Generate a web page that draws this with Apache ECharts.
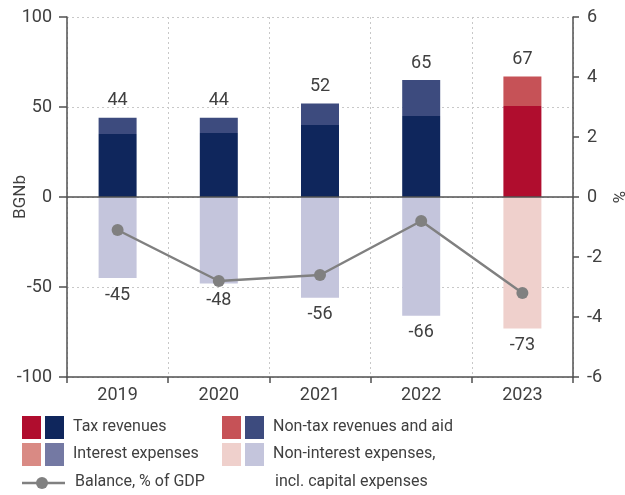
<!DOCTYPE html>
<html>
<head>
<meta charset="utf-8">
<script src="https://cdn.jsdelivr.net/npm/echarts@6/dist/echarts.min.js"></script>
<style>
  html, body { margin: 0; padding: 0; background: #ffffff; }
  #chart { width: 625px; height: 495px; }
</style>
</head>
<body>
<div id="chart"></div>
<script>
// Budget revenues and expenses, BGN billion, and budget balance, % of GDP
var years = ['2019', '2020', '2021', '2022', '2023'];
var taxRevenues = [35, 35.5, 40, 45, 50.5];
var nonTaxRevenues = [9, 8.5, 12, 20, 16.5];
var revenueTotals = [44, 44, 52, 65, 67];
var interestExpenses = [0, 0, 0, 0, 0];
var nonInterestExpenses = [-45, -48, -56, -66, -73];
var expenseTotals = [-45, -48, -56, -66, -73];
var balancePct = [-1.1, -2.8, -2.6, -0.8, -3.2];

var leftTicks = { min: -100, max: 100, interval: 50 };
var rightTicks = { min: -6, max: 6, interval: 2 };

var legendItems = [
  { name: 'Tax revenues', red: '#b00d2e', blue: '#0f265c' },
  { name: 'Interest expenses', red: '#d98a84', blue: '#7479a3' },
  { name: 'Non-tax revenues and aid', red: '#c65257', blue: '#3d4b7e' },
  { name: 'Non-interest expenses,', red: '#efd0cc', blue: '#c4c5dc' }
];
var legendExtra = 'incl. capital expenses';
var balanceName = 'Balance, % of GDP';

var FONT = 'Roboto, "Liberation Sans", sans-serif';
var TXT = '#404040';
var AX = '#505050';
var NUM = 18;        // size of numeric labels
var HIGHLIGHT = 4;   // 2023 bars drawn in red tones

function coloured(values, blue, red) {
  return values.map(function (v, i) {
    return { value: v, itemStyle: { color: i === HIGHLIGHT ? red : blue } };
  });
}

var chart = echarts.init(document.getElementById('chart'), null, { renderer: 'canvas' });

// Legend: a red and a blue swatch per item, then its text
var graphics = [];
var cols = [22, 222];
var rows = [416, 443];
legendItems.forEach(function (it, k) {
  var x = cols[Math.floor(k / 2)];
  var y = rows[k % 2];
  graphics.push({ type: 'rect', left: x, top: y, shape: { width: 19, height: 23 }, style: { fill: it.red } });
  graphics.push({ type: 'rect', left: x + 23, top: y, shape: { width: 19, height: 23 }, style: { fill: it.blue } });
  graphics.push({ type: 'text', left: x + 51, top: y + 3, style: { text: it.name, font: '16px ' + FONT, fill: TXT } });
});
graphics.push({ type: 'line', shape: { x1: 22, y1: 483, x2: 65, y2: 483 }, style: { stroke: '#808080', lineWidth: 2.5 } });
graphics.push({ type: 'circle', shape: { cx: 42, cy: 483, r: 6 }, style: { fill: '#808080' } });
graphics.push({ type: 'text', left: 75, top: 474, style: { text: balanceName, font: '16px ' + FONT, fill: TXT } });
graphics.push({ type: 'text', left: 275, top: 474, style: { text: legendExtra, font: '16px ' + FONT, fill: TXT } });

var option = {
  animation: false,
  textStyle: { fontFamily: FONT },
  grid: { left: 67, right: 52, top: 17, bottom: 118, containLabel: false, outerBoundsMode: 'none' },
  graphic: graphics,
  xAxis: {
    type: 'category',
    data: years,
    position: 'bottom',
    axisLine: { onZero: false, lineStyle: { color: AX, width: 1.5 } },
    axisTick: { show: true, length: 6, lineStyle: { color: AX, width: 1.5 } },
    axisLabel: { color: TXT, fontSize: NUM, margin: 9, fontFamily: FONT },
    splitLine: { show: true, lineStyle: { color: '#c8c8c8', type: [2, 3], width: 1 } }
  },
  yAxis: [
    {
      type: 'value',
      min: leftTicks.min, max: leftTicks.max, interval: leftTicks.interval,
      name: 'BGNb',
      nameLocation: 'middle',
      nameGap: 38,
      nameRotate: 90,
      nameMoveOverlap: false,
      nameTextStyle: { color: TXT, fontSize: 17, fontFamily: FONT },
      axisLine: { show: true, lineStyle: { color: AX, width: 1.5 } },
      axisTick: { show: true, length: 8, lineStyle: { color: AX, width: 1.5 } },
      axisLabel: { color: TXT, fontSize: NUM, margin: 15, fontFamily: FONT },
      splitLine: { show: true, lineStyle: { color: '#c8c8c8', type: [2, 3], width: 1 } }
    },
    {
      type: 'value',
      min: rightTicks.min, max: rightTicks.max, interval: rightTicks.interval,
      name: '%',
      nameLocation: 'middle',
      nameGap: 36,
      nameRotate: -90,
      nameMoveOverlap: false,
      nameTextStyle: { color: TXT, fontSize: 17, fontFamily: FONT },
      axisLine: { show: true, lineStyle: { color: AX, width: 1.5 } },
      axisTick: { show: true, length: 6, lineStyle: { color: AX, width: 1.5 } },
      axisLabel: { color: TXT, fontSize: NUM, margin: 14, fontFamily: FONT },
      splitLine: { show: false }
    }
  ],
  series: [
    {
      name: 'Tax revenues', type: 'bar', stack: 'budget', barWidth: 38,
      data: coloured(taxRevenues, '#0f265c', '#b00d2e'),
      markLine: {
        silent: true, symbol: 'none', label: { show: false },
        lineStyle: { color: AX, width: 1.5, type: 'solid' },
        data: [{ yAxis: 0 }]
      },
      z: 2
    },
    {
      name: 'Non-tax revenues and aid', type: 'bar', stack: 'budget', barWidth: 38,
      data: coloured(nonTaxRevenues, '#3d4b7e', '#c65257'),
      label: {
        show: true, position: 'top', distance: 8, color: TXT, fontSize: NUM, fontFamily: FONT,
        formatter: function (p) { return revenueTotals[p.dataIndex]; }
      },
      z: 2
    },
    {
      name: 'Interest expenses', type: 'bar', stack: 'budget', barWidth: 38,
      data: coloured(interestExpenses, '#7479a3', '#d98a84'),
      z: 2
    },
    {
      name: 'Non-interest expenses, incl. capital expenses', type: 'bar', stack: 'budget', barWidth: 38,
      data: coloured(nonInterestExpenses, '#c4c5dc', '#efd0cc'),
      label: {
        show: true, position: 'bottom', distance: 8, color: TXT, fontSize: NUM, fontFamily: FONT,
        formatter: function (p) { return expenseTotals[p.dataIndex]; }
      },
      z: 2
    },
    {
      name: balanceName, type: 'line', yAxisIndex: 1,
      data: balancePct,
      symbol: 'circle', symbolSize: 12,
      lineStyle: { color: '#808080', width: 2.5 },
      itemStyle: { color: '#808080' },
      z: 5
    }
  ]
};

chart.setOption(option);
</script>
</body>
</html>
